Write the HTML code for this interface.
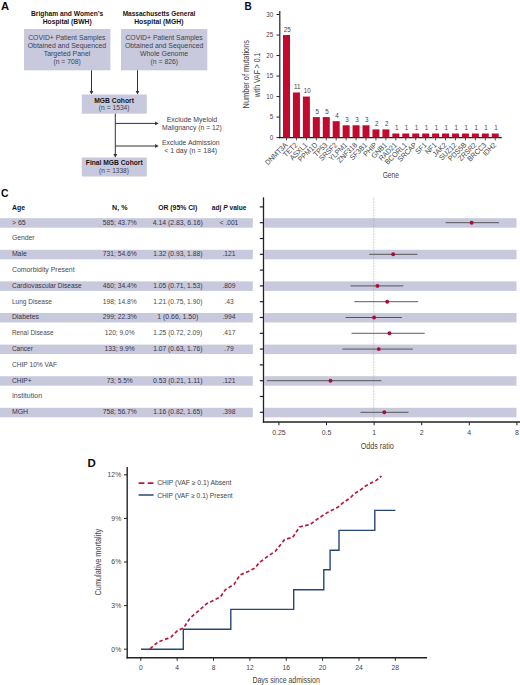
<!DOCTYPE html>
<html><head><meta charset="utf-8"><style>
html,body{margin:0;padding:0;background:#fff;}
svg{display:block;font-family:"Liberation Sans",sans-serif;}
</style></head><body>
<svg width="520" height="685" viewBox="0 0 520 685">
<rect width="520" height="685" fill="#fff"/>
<text x="0.90" y="9.70" font-size="10.6" font-weight="bold" fill="#0a0a0a" textLength="8.10" lengthAdjust="spacingAndGlyphs">A</text>
<text x="31.00" y="16.30" font-size="7.0" font-weight="bold" fill="#151515" textLength="72.20" lengthAdjust="spacingAndGlyphs">Brigham and Women’s</text>
<text x="42.70" y="23.90" font-size="7.0" font-weight="bold" fill="#151515" textLength="49.00" lengthAdjust="spacingAndGlyphs">Hospital (BWH)</text>
<text x="122.70" y="16.30" font-size="7.0" font-weight="bold" fill="#151515" textLength="72.70" lengthAdjust="spacingAndGlyphs">Massachusetts General</text>
<text x="134.20" y="23.90" font-size="7.0" font-weight="bold" fill="#151515" textLength="49.30" lengthAdjust="spacingAndGlyphs">Hospital (MGH)</text>
<rect x="24.00" y="29.00" width="86.40" height="41.30" fill="#c8c9dd"/>
<rect x="121.00" y="29.00" width="86.30" height="41.30" fill="#c8c9dd"/>
<text x="28.20" y="40.40" font-size="7.5" fill="#424250" textLength="77.30" lengthAdjust="spacingAndGlyphs">COVID+ Patient Samples</text>
<text x="27.70" y="48.00" font-size="7.5" fill="#424250" textLength="78.50" lengthAdjust="spacingAndGlyphs">Obtained and Sequenced</text>
<text x="43.70" y="55.80" font-size="7.5" fill="#424250" textLength="46.60" lengthAdjust="spacingAndGlyphs">Targeted Panel</text>
<text x="53.40" y="63.80" font-size="7.5" fill="#424250" textLength="27.40" lengthAdjust="spacingAndGlyphs">(n = 708)</text>
<text x="125.40" y="40.40" font-size="7.5" fill="#424250" textLength="77.30" lengthAdjust="spacingAndGlyphs">COVID+ Patient Samples</text>
<text x="124.90" y="48.00" font-size="7.5" fill="#424250" textLength="78.50" lengthAdjust="spacingAndGlyphs">Obtained and Sequenced</text>
<text x="140.00" y="55.80" font-size="7.5" fill="#424250" textLength="48.00" lengthAdjust="spacingAndGlyphs">Whole Genome</text>
<text x="150.60" y="63.80" font-size="7.5" fill="#424250" textLength="27.40" lengthAdjust="spacingAndGlyphs">(n = 826)</text>
<line x1="91.50" y1="70.30" x2="91.50" y2="92.00" stroke="#333" stroke-width="1.0"/>
<path d="M89.60,90.90 L93.40,90.90 L91.50,94.50 Z" fill="#333"/>
<line x1="137.50" y1="70.30" x2="137.50" y2="92.00" stroke="#333" stroke-width="1.0"/>
<path d="M135.60,90.90 L139.40,90.90 L137.50,94.50 Z" fill="#333"/>
<rect x="81.80" y="94.50" width="65.00" height="19.20" fill="#c8c9dd"/>
<text x="94.20" y="102.50" font-size="7.0" font-weight="bold" fill="#151515" textLength="39.70" lengthAdjust="spacingAndGlyphs">MGB Cohort</text>
<text x="98.80" y="110.40" font-size="7.5" fill="#424250" textLength="30.80" lengthAdjust="spacingAndGlyphs">(n = 1534)</text>
<line x1="115.30" y1="113.70" x2="115.30" y2="155.20" stroke="#333" stroke-width="1.0"/>
<path d="M113.40,154.10 L117.20,154.10 L115.30,157.70 Z" fill="#333"/>
<line x1="115.30" y1="123.40" x2="156.20" y2="123.40" stroke="#333" stroke-width="1.0"/>
<path d="M155.10,121.50 L155.10,125.30 L158.70,123.40 Z" fill="#333"/>
<line x1="115.30" y1="146.00" x2="156.20" y2="146.00" stroke="#333" stroke-width="1.0"/>
<path d="M155.10,144.10 L155.10,147.90 L158.70,146.00 Z" fill="#333"/>
<text x="166.70" y="121.60" font-size="7.5" fill="#424250" textLength="50.50" lengthAdjust="spacingAndGlyphs">Exclude Myeloid</text>
<text x="162.00" y="129.90" font-size="7.5" fill="#424250" textLength="59.80" lengthAdjust="spacingAndGlyphs">Malignancy (n = 12)</text>
<text x="162.00" y="144.70" font-size="7.5" fill="#424250" textLength="57.60" lengthAdjust="spacingAndGlyphs">Exclude Admission</text>
<text x="164.20" y="152.90" font-size="7.5" fill="#424250" textLength="53.00" lengthAdjust="spacingAndGlyphs">&lt; 1 day (n = 184)</text>
<rect x="81.80" y="157.50" width="65.00" height="19.00" fill="#c8c9dd"/>
<text x="85.80" y="165.00" font-size="7.0" font-weight="bold" fill="#151515" textLength="56.90" lengthAdjust="spacingAndGlyphs">Final MGB Cohort</text>
<text x="99.00" y="172.80" font-size="7.5" fill="#424250" textLength="29.80" lengthAdjust="spacingAndGlyphs">(n = 1338)</text>
<text x="244.60" y="9.70" font-size="10.6" font-weight="bold" fill="#0a0a0a" textLength="7.20" lengthAdjust="spacingAndGlyphs">B</text>
<line x1="279.80" y1="11.00" x2="279.80" y2="138.20" stroke="#222" stroke-width="1.2"/>
<line x1="278.90" y1="137.60" x2="501.70" y2="137.60" stroke="#222" stroke-width="1.2"/>
<line x1="276.50" y1="137.60" x2="279.80" y2="137.60" stroke="#222" stroke-width="1.0"/>
<text x="273.20" y="139.70" font-size="7.0" text-anchor="end" fill="#444" textLength="3.48" lengthAdjust="spacingAndGlyphs">0</text>
<line x1="276.50" y1="117.08" x2="279.80" y2="117.08" stroke="#222" stroke-width="1.0"/>
<text x="273.20" y="119.18" font-size="7.0" text-anchor="end" fill="#444" textLength="3.48" lengthAdjust="spacingAndGlyphs">5</text>
<line x1="276.50" y1="96.57" x2="279.80" y2="96.57" stroke="#222" stroke-width="1.0"/>
<text x="273.20" y="98.67" font-size="7.0" text-anchor="end" fill="#444" textLength="6.95" lengthAdjust="spacingAndGlyphs">10</text>
<line x1="276.50" y1="76.06" x2="279.80" y2="76.06" stroke="#222" stroke-width="1.0"/>
<text x="273.20" y="78.16" font-size="7.0" text-anchor="end" fill="#444" textLength="6.95" lengthAdjust="spacingAndGlyphs">15</text>
<line x1="276.50" y1="55.54" x2="279.80" y2="55.54" stroke="#222" stroke-width="1.0"/>
<text x="273.20" y="57.64" font-size="7.0" text-anchor="end" fill="#444" textLength="6.95" lengthAdjust="spacingAndGlyphs">20</text>
<line x1="276.50" y1="35.03" x2="279.80" y2="35.03" stroke="#222" stroke-width="1.0"/>
<text x="273.20" y="37.13" font-size="7.0" text-anchor="end" fill="#444" textLength="6.95" lengthAdjust="spacingAndGlyphs">25</text>
<line x1="276.50" y1="14.51" x2="279.80" y2="14.51" stroke="#222" stroke-width="1.0"/>
<text x="273.20" y="16.61" font-size="7.0" text-anchor="end" fill="#444" textLength="6.95" lengthAdjust="spacingAndGlyphs">30</text>
<rect x="283.00" y="35.03" width="7.00" height="102.57" fill="#c20a2e"/>
<line x1="286.50" y1="137.60" x2="286.50" y2="140.40" stroke="#222" stroke-width="0.8"/>
<text x="287.30" y="31.83" font-size="7.0" text-anchor="middle" fill="#444" textLength="6.95" lengthAdjust="spacingAndGlyphs">25</text>
<text x="288.10" y="145.50" font-size="7.4" text-anchor="end" fill="#444" textLength="28.37" lengthAdjust="spacingAndGlyphs" transform="rotate(-45 288.10 145.50)">DNMT3A</text>
<rect x="292.94" y="92.47" width="7.00" height="45.13" fill="#c20a2e"/>
<line x1="296.44" y1="137.60" x2="296.44" y2="140.40" stroke="#222" stroke-width="0.8"/>
<text x="297.24" y="89.27" font-size="7.0" text-anchor="middle" fill="#444" textLength="6.49" lengthAdjust="spacingAndGlyphs">11</text>
<text x="298.04" y="145.50" font-size="7.4" text-anchor="end" fill="#444" textLength="16.87" lengthAdjust="spacingAndGlyphs" transform="rotate(-45 298.04 145.50)">TET2</text>
<rect x="302.88" y="96.57" width="7.00" height="41.03" fill="#c20a2e"/>
<line x1="306.38" y1="137.60" x2="306.38" y2="140.40" stroke="#222" stroke-width="0.8"/>
<text x="307.18" y="93.37" font-size="7.0" text-anchor="middle" fill="#444" textLength="6.95" lengthAdjust="spacingAndGlyphs">10</text>
<text x="307.98" y="145.50" font-size="7.4" text-anchor="end" fill="#444" textLength="21.48" lengthAdjust="spacingAndGlyphs" transform="rotate(-45 307.98 145.50)">ASXL1</text>
<rect x="312.82" y="117.08" width="7.00" height="20.52" fill="#c20a2e"/>
<line x1="316.32" y1="137.60" x2="316.32" y2="140.40" stroke="#222" stroke-width="0.8"/>
<text x="317.12" y="113.88" font-size="7.0" text-anchor="middle" fill="#444" textLength="3.48" lengthAdjust="spacingAndGlyphs">5</text>
<text x="317.92" y="145.50" font-size="7.4" text-anchor="end" fill="#444" textLength="23.77" lengthAdjust="spacingAndGlyphs" transform="rotate(-45 317.92 145.50)">PPM1D</text>
<rect x="322.76" y="117.08" width="7.00" height="20.52" fill="#c20a2e"/>
<line x1="326.26" y1="137.60" x2="326.26" y2="140.40" stroke="#222" stroke-width="0.8"/>
<text x="327.06" y="113.88" font-size="7.0" text-anchor="middle" fill="#444" textLength="3.48" lengthAdjust="spacingAndGlyphs">5</text>
<text x="327.86" y="145.50" font-size="7.4" text-anchor="end" fill="#444" textLength="16.49" lengthAdjust="spacingAndGlyphs" transform="rotate(-45 327.86 145.50)">TP53</text>
<rect x="332.70" y="121.19" width="7.00" height="16.41" fill="#c20a2e"/>
<line x1="336.20" y1="137.60" x2="336.20" y2="140.40" stroke="#222" stroke-width="0.8"/>
<text x="337.00" y="117.99" font-size="7.0" text-anchor="middle" fill="#444" textLength="3.48" lengthAdjust="spacingAndGlyphs">4</text>
<text x="337.80" y="145.50" font-size="7.4" text-anchor="end" fill="#444" textLength="22.24" lengthAdjust="spacingAndGlyphs" transform="rotate(-45 337.80 145.50)">SRSF2</text>
<rect x="342.64" y="125.29" width="7.00" height="12.31" fill="#c20a2e"/>
<line x1="346.14" y1="137.60" x2="346.14" y2="140.40" stroke="#222" stroke-width="0.8"/>
<text x="346.94" y="122.09" font-size="7.0" text-anchor="middle" fill="#444" textLength="3.48" lengthAdjust="spacingAndGlyphs">3</text>
<text x="347.74" y="145.50" font-size="7.4" text-anchor="end" fill="#444" textLength="22.63" lengthAdjust="spacingAndGlyphs" transform="rotate(-45 347.74 145.50)">YLPM1</text>
<rect x="352.58" y="125.29" width="7.00" height="12.31" fill="#c20a2e"/>
<line x1="356.08" y1="137.60" x2="356.08" y2="140.40" stroke="#222" stroke-width="0.8"/>
<text x="356.88" y="122.09" font-size="7.0" text-anchor="middle" fill="#444" textLength="3.48" lengthAdjust="spacingAndGlyphs">3</text>
<text x="357.68" y="145.50" font-size="7.4" text-anchor="end" fill="#444" textLength="24.93" lengthAdjust="spacingAndGlyphs" transform="rotate(-45 357.68 145.50)">ZNF318</text>
<rect x="362.52" y="125.29" width="7.00" height="12.31" fill="#c20a2e"/>
<line x1="366.02" y1="137.60" x2="366.02" y2="140.40" stroke="#222" stroke-width="0.8"/>
<text x="366.82" y="122.09" font-size="7.0" text-anchor="middle" fill="#444" textLength="3.48" lengthAdjust="spacingAndGlyphs">3</text>
<text x="367.62" y="145.50" font-size="7.4" text-anchor="end" fill="#444" textLength="21.09" lengthAdjust="spacingAndGlyphs" transform="rotate(-45 367.62 145.50)">SF3B1</text>
<rect x="372.46" y="129.39" width="7.00" height="8.21" fill="#c20a2e"/>
<line x1="375.96" y1="137.60" x2="375.96" y2="140.40" stroke="#222" stroke-width="0.8"/>
<text x="376.76" y="126.19" font-size="7.0" text-anchor="middle" fill="#444" textLength="3.48" lengthAdjust="spacingAndGlyphs">2</text>
<text x="377.56" y="145.50" font-size="7.4" text-anchor="end" fill="#444" textLength="16.10" lengthAdjust="spacingAndGlyphs" transform="rotate(-45 377.56 145.50)">PHIP</text>
<rect x="382.40" y="129.39" width="7.00" height="8.21" fill="#c20a2e"/>
<line x1="385.90" y1="137.60" x2="385.90" y2="140.40" stroke="#222" stroke-width="0.8"/>
<text x="386.70" y="126.19" font-size="7.0" text-anchor="middle" fill="#444" textLength="3.48" lengthAdjust="spacingAndGlyphs">2</text>
<text x="387.50" y="145.50" font-size="7.4" text-anchor="end" fill="#444" textLength="18.79" lengthAdjust="spacingAndGlyphs" transform="rotate(-45 387.50 145.50)">GNB1</text>
<rect x="392.34" y="133.50" width="7.00" height="4.10" fill="#c20a2e"/>
<line x1="395.84" y1="137.60" x2="395.84" y2="140.40" stroke="#222" stroke-width="0.8"/>
<text x="396.64" y="130.30" font-size="7.0" text-anchor="middle" fill="#444" textLength="3.48" lengthAdjust="spacingAndGlyphs">1</text>
<text x="397.44" y="145.50" font-size="7.4" text-anchor="end" fill="#444" textLength="22.24" lengthAdjust="spacingAndGlyphs" transform="rotate(-45 397.44 145.50)">RAD21</text>
<rect x="402.28" y="133.50" width="7.00" height="4.10" fill="#c20a2e"/>
<line x1="405.78" y1="137.60" x2="405.78" y2="140.40" stroke="#222" stroke-width="0.8"/>
<text x="406.58" y="130.30" font-size="7.0" text-anchor="middle" fill="#444" textLength="3.48" lengthAdjust="spacingAndGlyphs">1</text>
<text x="407.38" y="145.50" font-size="7.4" text-anchor="end" fill="#444" textLength="27.61" lengthAdjust="spacingAndGlyphs" transform="rotate(-45 407.38 145.50)">BCORL1</text>
<rect x="412.22" y="133.50" width="7.00" height="4.10" fill="#c20a2e"/>
<line x1="415.72" y1="137.60" x2="415.72" y2="140.40" stroke="#222" stroke-width="0.8"/>
<text x="416.52" y="130.30" font-size="7.0" text-anchor="middle" fill="#444" textLength="3.48" lengthAdjust="spacingAndGlyphs">1</text>
<text x="417.32" y="145.50" font-size="7.4" text-anchor="end" fill="#444" textLength="23.77" lengthAdjust="spacingAndGlyphs" transform="rotate(-45 417.32 145.50)">SRCAP</text>
<rect x="422.16" y="133.50" width="7.00" height="4.10" fill="#c20a2e"/>
<line x1="425.66" y1="137.60" x2="425.66" y2="140.40" stroke="#222" stroke-width="0.8"/>
<text x="426.46" y="130.30" font-size="7.0" text-anchor="middle" fill="#444" textLength="3.48" lengthAdjust="spacingAndGlyphs">1</text>
<text x="427.26" y="145.50" font-size="7.4" text-anchor="end" fill="#444" textLength="12.65" lengthAdjust="spacingAndGlyphs" transform="rotate(-45 427.26 145.50)">SF1</text>
<rect x="432.10" y="133.50" width="7.00" height="4.10" fill="#c20a2e"/>
<line x1="435.60" y1="137.60" x2="435.60" y2="140.40" stroke="#222" stroke-width="0.8"/>
<text x="436.40" y="130.30" font-size="7.0" text-anchor="middle" fill="#444" textLength="3.48" lengthAdjust="spacingAndGlyphs">1</text>
<text x="437.20" y="145.50" font-size="7.4" text-anchor="end" fill="#444" textLength="13.04" lengthAdjust="spacingAndGlyphs" transform="rotate(-45 437.20 145.50)">NF1</text>
<rect x="442.04" y="133.50" width="7.00" height="4.10" fill="#c20a2e"/>
<line x1="445.54" y1="137.60" x2="445.54" y2="140.40" stroke="#222" stroke-width="0.8"/>
<text x="446.34" y="130.30" font-size="7.0" text-anchor="middle" fill="#444" textLength="3.48" lengthAdjust="spacingAndGlyphs">1</text>
<text x="447.14" y="145.50" font-size="7.4" text-anchor="end" fill="#444" textLength="16.49" lengthAdjust="spacingAndGlyphs" transform="rotate(-45 447.14 145.50)">JAK2</text>
<rect x="451.98" y="133.50" width="7.00" height="4.10" fill="#c20a2e"/>
<line x1="455.48" y1="137.60" x2="455.48" y2="140.40" stroke="#222" stroke-width="0.8"/>
<text x="456.28" y="130.30" font-size="7.0" text-anchor="middle" fill="#444" textLength="3.48" lengthAdjust="spacingAndGlyphs">1</text>
<text x="457.08" y="145.50" font-size="7.4" text-anchor="end" fill="#444" textLength="21.48" lengthAdjust="spacingAndGlyphs" transform="rotate(-45 457.08 145.50)">SUZ12</text>
<rect x="461.92" y="133.50" width="7.00" height="4.10" fill="#c20a2e"/>
<line x1="465.42" y1="137.60" x2="465.42" y2="140.40" stroke="#222" stroke-width="0.8"/>
<text x="466.22" y="130.30" font-size="7.0" text-anchor="middle" fill="#444" textLength="3.48" lengthAdjust="spacingAndGlyphs">1</text>
<text x="467.02" y="145.50" font-size="7.4" text-anchor="end" fill="#444" textLength="22.63" lengthAdjust="spacingAndGlyphs" transform="rotate(-45 467.02 145.50)">PDS5B</text>
<rect x="471.86" y="133.50" width="7.00" height="4.10" fill="#c20a2e"/>
<line x1="475.36" y1="137.60" x2="475.36" y2="140.40" stroke="#222" stroke-width="0.8"/>
<text x="476.16" y="130.30" font-size="7.0" text-anchor="middle" fill="#444" textLength="3.48" lengthAdjust="spacingAndGlyphs">1</text>
<text x="476.96" y="145.50" font-size="7.4" text-anchor="end" fill="#444" textLength="22.62" lengthAdjust="spacingAndGlyphs" transform="rotate(-45 476.96 145.50)">ZRSR2</text>
<rect x="481.80" y="133.50" width="7.00" height="4.10" fill="#c20a2e"/>
<line x1="485.30" y1="137.60" x2="485.30" y2="140.40" stroke="#222" stroke-width="0.8"/>
<text x="486.10" y="130.30" font-size="7.0" text-anchor="middle" fill="#444" textLength="3.48" lengthAdjust="spacingAndGlyphs">1</text>
<text x="486.90" y="145.50" font-size="7.4" text-anchor="end" fill="#444" textLength="23.39" lengthAdjust="spacingAndGlyphs" transform="rotate(-45 486.90 145.50)">BRCC3</text>
<rect x="491.74" y="133.50" width="7.00" height="4.10" fill="#c20a2e"/>
<line x1="495.24" y1="137.60" x2="495.24" y2="140.40" stroke="#222" stroke-width="0.8"/>
<text x="496.04" y="130.30" font-size="7.0" text-anchor="middle" fill="#444" textLength="3.48" lengthAdjust="spacingAndGlyphs">1</text>
<text x="496.84" y="145.50" font-size="7.4" text-anchor="end" fill="#444" textLength="15.72" lengthAdjust="spacingAndGlyphs" transform="rotate(-45 496.84 145.50)">IDH2</text>
<text x="382.70" y="178.40" font-size="8.2" fill="#444" textLength="16.30" lengthAdjust="spacingAndGlyphs">Gene</text>
<text x="0" y="0" font-size="8.4" text-anchor="middle" fill="#444" textLength="68.4" lengthAdjust="spacingAndGlyphs" transform="translate(249.3 74.2) rotate(-90)">Number of mutations</text>
<text x="0" y="0" font-size="8.4" text-anchor="middle" fill="#444" textLength="44.7" lengthAdjust="spacingAndGlyphs" transform="translate(260.0 74.9) rotate(-90)">with VAF &gt; 0.1</text>
<text x="0.90" y="197.20" font-size="10.6" font-weight="bold" fill="#0a0a0a" textLength="7.50" lengthAdjust="spacingAndGlyphs">C</text>
<text x="12.10" y="209.80" font-size="6.8" font-weight="bold" fill="#151515" textLength="13.00" lengthAdjust="spacingAndGlyphs">Age</text>
<text x="112.10" y="209.80" font-size="6.8" font-weight="bold" fill="#151515" textLength="15.40" lengthAdjust="spacingAndGlyphs">N, %</text>
<text x="158.20" y="209.80" font-size="6.8" font-weight="bold" fill="#151515" textLength="39.10" lengthAdjust="spacingAndGlyphs">OR (95% CI)</text>
<text x="211.8" y="209.8" font-size="6.8" font-weight="bold" fill="#151515" textLength="34.6" lengthAdjust="spacingAndGlyphs">adj <tspan font-style="italic">P</tspan> value</text>
<rect x="0.00" y="218.20" width="252.80" height="9.50" fill="#c8c9dd"/>
<rect x="264.40" y="218.20" width="252.10" height="9.50" fill="#c8c9dd"/>
<rect x="0.00" y="249.80" width="252.80" height="9.50" fill="#c8c9dd"/>
<rect x="264.40" y="249.80" width="252.10" height="9.50" fill="#c8c9dd"/>
<rect x="0.00" y="281.40" width="252.80" height="9.50" fill="#c8c9dd"/>
<rect x="264.40" y="281.40" width="252.10" height="9.50" fill="#c8c9dd"/>
<rect x="0.00" y="313.00" width="252.80" height="9.50" fill="#c8c9dd"/>
<rect x="264.40" y="313.00" width="252.10" height="9.50" fill="#c8c9dd"/>
<rect x="0.00" y="344.60" width="252.80" height="9.50" fill="#c8c9dd"/>
<rect x="264.40" y="344.60" width="252.10" height="9.50" fill="#c8c9dd"/>
<rect x="0.00" y="376.20" width="252.80" height="9.50" fill="#c8c9dd"/>
<rect x="264.40" y="376.20" width="252.10" height="9.50" fill="#c8c9dd"/>
<rect x="0.00" y="407.80" width="252.80" height="9.50" fill="#c8c9dd"/>
<rect x="264.40" y="407.80" width="252.10" height="9.50" fill="#c8c9dd"/>
<line x1="373.80" y1="197.40" x2="373.80" y2="421.90" stroke="#aaa" stroke-width="0.8" stroke-dasharray="0.8 0.8"/>
<text x="11.90" y="224.60" font-size="7.3" fill="#35364a" textLength="13.80" lengthAdjust="spacingAndGlyphs">&gt; 65</text>
<text x="119.70" y="224.60" font-size="7.3" text-anchor="middle" fill="#35364a" textLength="33.80" lengthAdjust="spacingAndGlyphs">585; 43.7%</text>
<text x="177.80" y="224.60" font-size="7.3" text-anchor="middle" fill="#35364a" textLength="50.10" lengthAdjust="spacingAndGlyphs">4.14 (2.83, 6.16)</text>
<text x="229.00" y="224.60" font-size="7.3" text-anchor="middle" fill="#35364a" textLength="18.50" lengthAdjust="spacingAndGlyphs">&lt; .001</text>
<line x1="445.54" y1="222.70" x2="498.95" y2="222.70" stroke="#4a4a4a" stroke-width="0.9"/>
<circle cx="471.66" cy="222.70" r="1.95" fill="#a80c36"/>
<text x="11.90" y="240.40" font-size="7.3" fill="#4a4a4a" textLength="22.70" lengthAdjust="spacingAndGlyphs">Gender</text>
<text x="11.90" y="256.20" font-size="7.3" fill="#35364a" textLength="14.90" lengthAdjust="spacingAndGlyphs">Male</text>
<text x="119.70" y="256.20" font-size="7.3" text-anchor="middle" fill="#35364a" textLength="33.90" lengthAdjust="spacingAndGlyphs">731; 54.6%</text>
<text x="177.80" y="256.20" font-size="7.3" text-anchor="middle" fill="#35364a" textLength="49.17" lengthAdjust="spacingAndGlyphs">1.32 (0.93, 1.88)</text>
<text x="229.00" y="256.20" font-size="7.3" text-anchor="middle" fill="#35364a" textLength="13.00" lengthAdjust="spacingAndGlyphs">.121</text>
<line x1="369.12" y1="254.30" x2="417.45" y2="254.30" stroke="#4a4a4a" stroke-width="0.9"/>
<circle cx="393.17" cy="254.30" r="1.95" fill="#a80c36"/>
<text x="11.90" y="272.00" font-size="7.3" fill="#4a4a4a" textLength="62.70" lengthAdjust="spacingAndGlyphs">Comorbidity Present</text>
<text x="11.90" y="287.80" font-size="7.3" fill="#35364a" textLength="69.80" lengthAdjust="spacingAndGlyphs">Cardiovascular Disease</text>
<text x="119.70" y="287.80" font-size="7.3" text-anchor="middle" fill="#35364a" textLength="33.90" lengthAdjust="spacingAndGlyphs">460; 34.4%</text>
<text x="177.80" y="287.80" font-size="7.3" text-anchor="middle" fill="#35364a" textLength="49.17" lengthAdjust="spacingAndGlyphs">1.05 (0.71, 1.53)</text>
<text x="229.00" y="287.80" font-size="7.3" text-anchor="middle" fill="#35364a" textLength="13.04" lengthAdjust="spacingAndGlyphs">.809</text>
<line x1="350.58" y1="285.90" x2="403.30" y2="285.90" stroke="#4a4a4a" stroke-width="0.9"/>
<circle cx="377.45" cy="285.90" r="1.95" fill="#a80c36"/>
<text x="11.90" y="303.60" font-size="7.3" fill="#4a4a4a" textLength="40.00" lengthAdjust="spacingAndGlyphs">Lung Disease</text>
<text x="119.70" y="303.60" font-size="7.3" text-anchor="middle" fill="#4a4a4a" textLength="33.90" lengthAdjust="spacingAndGlyphs">198; 14.8%</text>
<text x="177.80" y="303.60" font-size="7.3" text-anchor="middle" fill="#4a4a4a" textLength="49.17" lengthAdjust="spacingAndGlyphs">1.21 (0.75, 1.90)</text>
<text x="229.00" y="303.60" font-size="7.3" text-anchor="middle" fill="#4a4a4a" textLength="9.31" lengthAdjust="spacingAndGlyphs">.43</text>
<line x1="354.34" y1="301.70" x2="418.18" y2="301.70" stroke="#4a4a4a" stroke-width="0.9"/>
<circle cx="387.19" cy="301.70" r="1.95" fill="#a80c36"/>
<text x="11.90" y="319.40" font-size="7.3" fill="#35364a" textLength="27.00" lengthAdjust="spacingAndGlyphs">Diabetes</text>
<text x="119.70" y="319.40" font-size="7.3" text-anchor="middle" fill="#35364a" textLength="33.90" lengthAdjust="spacingAndGlyphs">299; 22.3%</text>
<text x="177.80" y="319.40" font-size="7.3" text-anchor="middle" fill="#35364a" textLength="40.90" lengthAdjust="spacingAndGlyphs">1 (0.66, 1.50)</text>
<text x="229.00" y="319.40" font-size="7.3" text-anchor="middle" fill="#35364a" textLength="13.04" lengthAdjust="spacingAndGlyphs">.994</text>
<line x1="345.57" y1="317.50" x2="401.94" y2="317.50" stroke="#4a4a4a" stroke-width="0.9"/>
<circle cx="374.10" cy="317.50" r="1.95" fill="#a80c36"/>
<text x="11.90" y="335.20" font-size="7.3" fill="#4a4a4a" textLength="41.60" lengthAdjust="spacingAndGlyphs">Renal Disease</text>
<text x="119.70" y="335.20" font-size="7.3" text-anchor="middle" fill="#4a4a4a" textLength="29.80" lengthAdjust="spacingAndGlyphs">120; 9.0%</text>
<text x="177.80" y="335.20" font-size="7.3" text-anchor="middle" fill="#4a4a4a" textLength="48.90" lengthAdjust="spacingAndGlyphs">1.25 (0.72, 2.09)</text>
<text x="229.00" y="335.20" font-size="7.3" text-anchor="middle" fill="#4a4a4a" textLength="13.04" lengthAdjust="spacingAndGlyphs">.417</text>
<line x1="351.54" y1="333.30" x2="424.72" y2="333.30" stroke="#4a4a4a" stroke-width="0.9"/>
<circle cx="389.42" cy="333.30" r="1.95" fill="#a80c36"/>
<text x="11.90" y="351.00" font-size="7.3" fill="#35364a" textLength="20.90" lengthAdjust="spacingAndGlyphs">Cancer</text>
<text x="119.70" y="351.00" font-size="7.3" text-anchor="middle" fill="#35364a" textLength="30.17" lengthAdjust="spacingAndGlyphs">133; 9.9%</text>
<text x="177.80" y="351.00" font-size="7.3" text-anchor="middle" fill="#35364a" textLength="49.17" lengthAdjust="spacingAndGlyphs">1.07 (0.63, 1.76)</text>
<text x="229.00" y="351.00" font-size="7.3" text-anchor="middle" fill="#35364a" textLength="9.31" lengthAdjust="spacingAndGlyphs">.79</text>
<line x1="342.37" y1="349.10" x2="412.92" y2="349.10" stroke="#4a4a4a" stroke-width="0.9"/>
<circle cx="378.75" cy="349.10" r="1.95" fill="#a80c36"/>
<text x="11.90" y="366.80" font-size="7.3" fill="#4a4a4a" textLength="45.10" lengthAdjust="spacingAndGlyphs">CHIP 10% VAF</text>
<text x="11.90" y="382.60" font-size="7.3" fill="#35364a" textLength="19.70" lengthAdjust="spacingAndGlyphs">CHIP+</text>
<text x="119.70" y="382.60" font-size="7.3" text-anchor="middle" fill="#35364a" textLength="26.10" lengthAdjust="spacingAndGlyphs">73; 5.5%</text>
<text x="177.80" y="382.60" font-size="7.3" text-anchor="middle" fill="#35364a" textLength="49.60" lengthAdjust="spacingAndGlyphs">0.53 (0.21, 1.11)</text>
<text x="229.00" y="382.60" font-size="7.3" text-anchor="middle" fill="#35364a" textLength="13.00" lengthAdjust="spacingAndGlyphs">.121</text>
<line x1="266.93" y1="380.70" x2="381.27" y2="380.70" stroke="#4a4a4a" stroke-width="0.9"/>
<circle cx="330.50" cy="380.70" r="1.95" fill="#a80c36"/>
<text x="11.90" y="398.40" font-size="7.3" fill="#4a4a4a" textLength="30.20" lengthAdjust="spacingAndGlyphs">Institution</text>
<text x="11.90" y="414.20" font-size="7.3" fill="#35364a" textLength="16.20" lengthAdjust="spacingAndGlyphs">MGH</text>
<text x="119.70" y="414.20" font-size="7.3" text-anchor="middle" fill="#35364a" textLength="33.90" lengthAdjust="spacingAndGlyphs">758; 56.7%</text>
<text x="177.80" y="414.20" font-size="7.3" text-anchor="middle" fill="#35364a" textLength="49.17" lengthAdjust="spacingAndGlyphs">1.16 (0.82, 1.65)</text>
<text x="229.00" y="414.20" font-size="7.3" text-anchor="middle" fill="#35364a" textLength="13.04" lengthAdjust="spacingAndGlyphs">.398</text>
<line x1="360.47" y1="412.30" x2="408.49" y2="412.30" stroke="#4a4a4a" stroke-width="0.9"/>
<circle cx="384.29" cy="412.30" r="1.95" fill="#a80c36"/>
<line x1="263.50" y1="197.30" x2="263.50" y2="422.60" stroke="#222" stroke-width="1.3"/>
<line x1="262.90" y1="422.00" x2="520.00" y2="422.00" stroke="#222" stroke-width="1.3"/>
<line x1="259.80" y1="206.90" x2="263.50" y2="206.90" stroke="#222" stroke-width="1.2"/>
<line x1="259.80" y1="222.70" x2="263.50" y2="222.70" stroke="#222" stroke-width="1.2"/>
<line x1="259.80" y1="238.50" x2="263.50" y2="238.50" stroke="#222" stroke-width="1.2"/>
<line x1="259.80" y1="254.30" x2="263.50" y2="254.30" stroke="#222" stroke-width="1.2"/>
<line x1="259.80" y1="270.10" x2="263.50" y2="270.10" stroke="#222" stroke-width="1.2"/>
<line x1="259.80" y1="285.90" x2="263.50" y2="285.90" stroke="#222" stroke-width="1.2"/>
<line x1="259.80" y1="301.70" x2="263.50" y2="301.70" stroke="#222" stroke-width="1.2"/>
<line x1="259.80" y1="317.50" x2="263.50" y2="317.50" stroke="#222" stroke-width="1.2"/>
<line x1="259.80" y1="333.30" x2="263.50" y2="333.30" stroke="#222" stroke-width="1.2"/>
<line x1="259.80" y1="349.10" x2="263.50" y2="349.10" stroke="#222" stroke-width="1.2"/>
<line x1="259.80" y1="364.90" x2="263.50" y2="364.90" stroke="#222" stroke-width="1.2"/>
<line x1="259.80" y1="380.70" x2="263.50" y2="380.70" stroke="#222" stroke-width="1.2"/>
<line x1="259.80" y1="396.50" x2="263.50" y2="396.50" stroke="#222" stroke-width="1.2"/>
<line x1="259.80" y1="412.30" x2="263.50" y2="412.30" stroke="#222" stroke-width="1.2"/>
<line x1="278.90" y1="422.00" x2="278.90" y2="425.30" stroke="#222" stroke-width="1.0"/>
<text x="278.90" y="434.60" font-size="6.8" text-anchor="middle" fill="#444" textLength="13.43" lengthAdjust="spacingAndGlyphs">0.25</text>
<line x1="326.50" y1="422.00" x2="326.50" y2="425.30" stroke="#222" stroke-width="1.0"/>
<text x="326.50" y="434.60" font-size="6.8" text-anchor="middle" fill="#444" textLength="9.59" lengthAdjust="spacingAndGlyphs">0.5</text>
<line x1="374.10" y1="422.00" x2="374.10" y2="425.30" stroke="#222" stroke-width="1.0"/>
<text x="374.10" y="434.60" font-size="6.8" text-anchor="middle" fill="#444" textLength="3.84" lengthAdjust="spacingAndGlyphs">1</text>
<line x1="421.70" y1="422.00" x2="421.70" y2="425.30" stroke="#222" stroke-width="1.0"/>
<text x="421.70" y="434.60" font-size="6.8" text-anchor="middle" fill="#444" textLength="3.84" lengthAdjust="spacingAndGlyphs">2</text>
<line x1="469.30" y1="422.00" x2="469.30" y2="425.30" stroke="#222" stroke-width="1.0"/>
<text x="469.30" y="434.60" font-size="6.8" text-anchor="middle" fill="#444" textLength="3.84" lengthAdjust="spacingAndGlyphs">4</text>
<line x1="516.90" y1="422.00" x2="516.90" y2="425.30" stroke="#222" stroke-width="1.0"/>
<text x="516.90" y="434.60" font-size="6.8" text-anchor="middle" fill="#444" textLength="3.84" lengthAdjust="spacingAndGlyphs">8</text>
<text x="360.80" y="449.00" font-size="8.4" fill="#444" textLength="32.90" lengthAdjust="spacingAndGlyphs">Odds ratio</text>
<text x="87.50" y="466.90" font-size="10.9" font-weight="bold" fill="#0a0a0a" textLength="8.30" lengthAdjust="spacingAndGlyphs">D</text>
<line x1="127.20" y1="467.00" x2="127.20" y2="658.50" stroke="#222" stroke-width="1.4"/>
<line x1="126.50" y1="657.80" x2="427.10" y2="657.80" stroke="#222" stroke-width="1.4"/>
<line x1="124.00" y1="649.20" x2="127.20" y2="649.20" stroke="#222" stroke-width="1.0"/>
<text x="121.20" y="651.60" font-size="6.9" text-anchor="end" fill="#444" textLength="9.83" lengthAdjust="spacingAndGlyphs">0%</text>
<line x1="124.00" y1="605.61" x2="127.20" y2="605.61" stroke="#222" stroke-width="1.0"/>
<text x="121.20" y="608.01" font-size="6.9" text-anchor="end" fill="#444" textLength="9.83" lengthAdjust="spacingAndGlyphs">3%</text>
<line x1="124.00" y1="562.02" x2="127.20" y2="562.02" stroke="#222" stroke-width="1.0"/>
<text x="121.20" y="564.42" font-size="6.9" text-anchor="end" fill="#444" textLength="9.83" lengthAdjust="spacingAndGlyphs">6%</text>
<line x1="124.00" y1="518.43" x2="127.20" y2="518.43" stroke="#222" stroke-width="1.0"/>
<text x="121.20" y="520.83" font-size="6.9" text-anchor="end" fill="#444" textLength="9.83" lengthAdjust="spacingAndGlyphs">9%</text>
<line x1="124.00" y1="474.84" x2="127.20" y2="474.84" stroke="#222" stroke-width="1.0"/>
<text x="121.20" y="477.24" font-size="6.9" text-anchor="end" fill="#444" textLength="13.61" lengthAdjust="spacingAndGlyphs">12%</text>
<line x1="140.80" y1="657.80" x2="140.80" y2="660.80" stroke="#222" stroke-width="1.0"/>
<text x="140.80" y="670.00" font-size="6.9" text-anchor="middle" fill="#444" textLength="3.75" lengthAdjust="spacingAndGlyphs">0</text>
<line x1="177.16" y1="657.80" x2="177.16" y2="660.80" stroke="#222" stroke-width="1.0"/>
<text x="177.16" y="670.00" font-size="6.9" text-anchor="middle" fill="#444" textLength="3.75" lengthAdjust="spacingAndGlyphs">4</text>
<line x1="213.52" y1="657.80" x2="213.52" y2="660.80" stroke="#222" stroke-width="1.0"/>
<text x="213.52" y="670.00" font-size="6.9" text-anchor="middle" fill="#444" textLength="3.75" lengthAdjust="spacingAndGlyphs">8</text>
<line x1="249.88" y1="657.80" x2="249.88" y2="660.80" stroke="#222" stroke-width="1.0"/>
<text x="249.88" y="670.00" font-size="6.9" text-anchor="middle" fill="#444" textLength="7.51" lengthAdjust="spacingAndGlyphs">12</text>
<line x1="286.24" y1="657.80" x2="286.24" y2="660.80" stroke="#222" stroke-width="1.0"/>
<text x="286.24" y="670.00" font-size="6.9" text-anchor="middle" fill="#444" textLength="7.51" lengthAdjust="spacingAndGlyphs">16</text>
<line x1="322.60" y1="657.80" x2="322.60" y2="660.80" stroke="#222" stroke-width="1.0"/>
<text x="322.60" y="670.00" font-size="6.9" text-anchor="middle" fill="#444" textLength="7.51" lengthAdjust="spacingAndGlyphs">20</text>
<line x1="358.96" y1="657.80" x2="358.96" y2="660.80" stroke="#222" stroke-width="1.0"/>
<text x="358.96" y="670.00" font-size="6.9" text-anchor="middle" fill="#444" textLength="7.51" lengthAdjust="spacingAndGlyphs">24</text>
<line x1="395.32" y1="657.80" x2="395.32" y2="660.80" stroke="#222" stroke-width="1.0"/>
<text x="395.32" y="670.00" font-size="6.9" text-anchor="middle" fill="#444" textLength="7.51" lengthAdjust="spacingAndGlyphs">28</text>
<text x="252.40" y="682.50" font-size="8.2" fill="#444" textLength="67.50" lengthAdjust="spacingAndGlyphs">Days since admission</text>
<text x="0" y="0" font-size="8.2" text-anchor="middle" fill="#444" textLength="66.6" lengthAdjust="spacingAndGlyphs" transform="translate(101.4 562.2) rotate(-90)">Cumulative mortality</text>
<line x1="138.60" y1="483.20" x2="153.40" y2="483.20" stroke="#b81a3a" stroke-width="1.7" stroke-dasharray="5.8 3.4"/>
<line x1="138.60" y1="495.00" x2="153.60" y2="495.00" stroke="#26467a" stroke-width="1.5"/>
<text x="157.20" y="485.40" font-size="6.5" fill="#444" textLength="74.30" lengthAdjust="spacingAndGlyphs">CHIP (VAF ≥ 0.1) Absent</text>
<text x="157.20" y="497.60" font-size="6.5" fill="#444" textLength="75.50" lengthAdjust="spacingAndGlyphs">CHIP (VAF ≥ 0.1) Present</text>
<path d="M141.0,649.3 L183.3,649.3 L183.3,629.2 L230.8,629.2 L230.8,609.4 L293.7,609.4 L293.7,589.8 L323.8,589.8 L323.8,569.8 L330.1,569.8 L330.1,550.2 L339.0,550.2 L339.0,530.4 L374.8,530.4 L374.8,510.4 L395.4,510.4" fill="none" stroke="#26467a" stroke-width="1.4"/>
<path d="M150.0,648.8 L158.1,641.9 L170.8,637.3 L177.7,630.4 L183.5,628.1 L190.4,617.7 L197.3,611.9 L206.5,603.8 L213.5,600.4 L220.4,596.9 L225.0,590.0 L234.2,584.2 L240.0,575.0 L248.1,571.5 L255.0,568.0 L259.2,562.7 L268.5,555.8 L275.4,551.2 L284.6,539.6 L292.7,537.3 L299.6,526.9 L310.0,524.6 L319.2,517.7 L328.5,511.9 L337.7,507.3 L343.1,502.7 L350.0,498.1 L354.6,493.5 L360.0,490.4 L364.6,486.5 L370.0,483.5 L376.2,480.4 L381.5,476.1" fill="none" stroke="#b81a3a" stroke-width="1.7" stroke-dasharray="3.6 2.4"/>
</svg>
</body></html>
